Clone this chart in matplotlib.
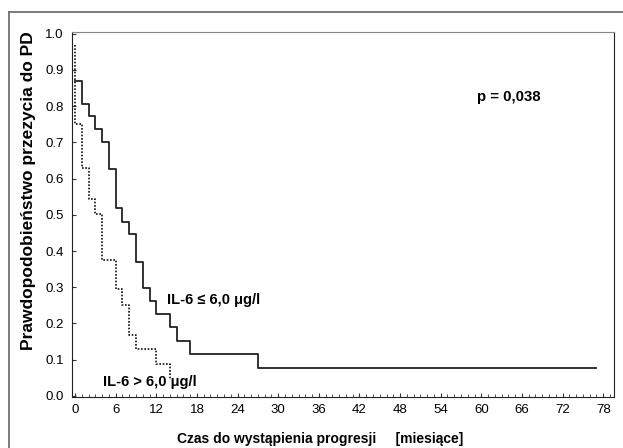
import matplotlib
matplotlib.use('Agg')
import matplotlib.pyplot as plt
from matplotlib.lines import Line2D
from matplotlib.ticker import MultipleLocator


# Kaplan-Meier steps
#----------------------------------------------------------------------------------------------------
low_t = [0, 1, 2, 3, 4, 5, 6, 7, 8, 9, 10, 11, 12, 14, 15, 17, 27, 77]
low_s = [0.870, 0.805, 0.773, 0.738, 0.702, 0.627, 0.519, 0.481, 0.446, 0.371,
         0.299, 0.262, 0.225, 0.190, 0.152, 0.115, 0.077, 0.077]

high_t = [0, 1, 2, 3, 4, 6, 7, 8, 9, 12, 14]
high_s = [0.751, 0.628, 0.543, 0.503, 0.376, 0.295, 0.252, 0.169, 0.129, 0.088, 0.045]

high_start = 0.97

x_ticks = list(range(0, 79, 6))
y_ticks = [i / 10 for i in range(11)]

p_text = 'p = 0,038'
low_label = 'IL-6 ≤ 6,0 μg/l'
high_label = 'IL-6 > 6,0 μg/l'
x_title = 'Czas do wystąpienia progresji     [miesiące]'
y_title = 'Prawdopodobieństwo przezycia do PD'


plt.rcParams['font.family'] = ['Liberation Sans', 'DejaVu Sans']


#----------------------------------------------------------------------------------------------------
fig = plt.figure(figsize=(6.23, 4.48), dpi=100)
ax = fig.add_axes([0.1156, 0.1138, 0.87, 0.815])

# outer frame (top and left only)
fig.add_artist(Line2D([9 / 623, 1.0], [1 - 12 / 448, 1 - 12 / 448], color='#666666', lw=1.2))
fig.add_artist(Line2D([9 / 623, 9 / 623], [0.0, 1 - 12 / 448], color='#666666', lw=1.2))


# curves
#----------------------------------------------------------------------------------------------------
ax.step(low_t, low_s, where='post', color='#222222', lw=1.3)
ax.step([0] + high_t, [high_start] + high_s, where='post', color='#111111', lw=1.2,
        linestyle=(0, (1, 1)))


# text
#----------------------------------------------------------------------------------------------------
ax.text(64, 0.826, p_text, fontsize=10.8, fontweight='bold', ha='center', va='center')
ax.text(13.6, 0.265, low_label, fontsize=10.5, fontweight='bold', ha='left', va='center')
ax.text(4.1, 0.039, high_label, fontsize=10.5, fontweight='bold', ha='left', va='center')


# axes
#----------------------------------------------------------------------------------------------------
ax.set_xlim(-0.45, 79.6)
ax.set_ylim(-0.003, 1.005)

ax.set_xticks(x_ticks)
ax.set_yticks(y_ticks)
ax.set_yticklabels([f'{v:.1f}' for v in y_ticks])
ax.xaxis.set_minor_locator(MultipleLocator(1))

ax.tick_params(which='both', direction='in', labelsize=9.5, color='#333333')
ax.tick_params(which='major', length=3)
ax.tick_params(which='minor', length=2)
ax.tick_params(axis='x', pad=5)
ax.tick_params(axis='y', pad=6)

for side in ['left', 'bottom', 'right']:
    ax.spines[side].set_color('#222222')
ax.spines['top'].set_color('#888888')

ax.set_xlabel(x_title, fontsize=10, fontweight='bold', labelpad=8)
ax.xaxis.set_label_coords(0.458, -0.095)
ax.set_ylabel(y_title, fontsize=12.5, fontweight='bold', labelpad=6)
ax.yaxis.set_label_coords(-0.066, 0.565)


fig.savefig('out.png', dpi=100)
